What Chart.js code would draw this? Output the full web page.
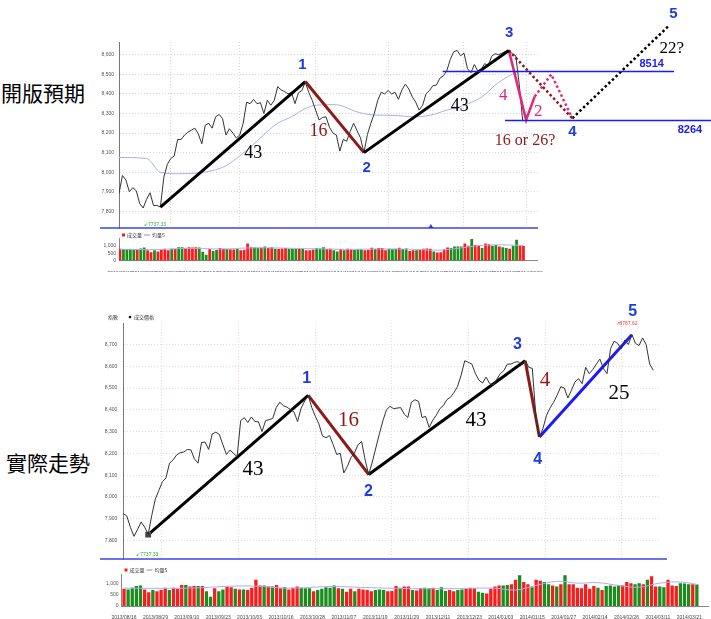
<!DOCTYPE html>
<html><head><meta charset="utf-8">
<script src="https://cdn.jsdelivr.net/npm/chart.js@4.4.1/dist/chart.umd.min.js"></script>
<style>
html,body{margin:0;padding:0;background:#fff;width:711px;height:619px;overflow:hidden;position:relative;}
canvas{position:absolute;}
.side{position:absolute;font-family:"Noto Sans CJK TC";font-size:21px;line-height:24px;color:#000;white-space:nowrap;}
</style></head><body>
<div class="side" style="left:1px;top:80px">開版預期</div>
<div class="side" style="left:6px;top:450px">實際走勢</div>
<canvas id="topPrice" width="445" height="206" style="left:100px;top:30px"></canvas>
<canvas id="topVol" width="445" height="40" style="left:100px;top:232px"></canvas>
<canvas id="topOverlay" width="611" height="240" style="left:100px;top:0px"></canvas>
<canvas id="botPrice" width="611" height="268" style="left:100px;top:300px"></canvas>
<canvas id="botVol" width="611" height="51" style="left:100px;top:568px"></canvas>
<script>
// ---------------- DATA ----------------
const topDates = ["2013/08/12","2013/08/20","2013/08/30","2013/09/10","2013/09/18","2013/10/01","2013/10/11","2013/10/22","2013/10/31","2013/11/11","2013/11/20","2013/11/29","2013/12/10","2013/12/19","2013/12/30","2014/01/09","2014/01/20","2014/02/06"];
const topPrice = [7891,7983,7960,7900,7921,7905,7840,7817,7862,7895,
7830,7830,7822,7975,8040,8070,8083,8167,8167,8190,
8205,8215,8225,8195,8145,8240,8250,8225,8283,8295,
8275,8190,8222,8200,8175,8190,8250,8358,8350,8372,
8350,8355,8300,8367,8342,8367,8437,8420,8412,8400,
8408,8350,8405,8417,8460,8408,8367,8317,8267,8280,
8283,8230,8200,8190,8108,8167,8158,8208,8250,8212,
8175,8100,8192,8250,8300,8367,8408,8400,8417,8400,
8408,8372,8420,8450,8425,8385,8358,8317,8342,8400,
8417,8442,8445,8480,8492,8517,8575,8615,8622,8595,
8608,8530,8508,8550,8517,8525,8555,8542,8592,8605,
8600,8608,8617,8622,8605,8595,8450,8264];
const topMaIdx = [0,8,12,17,22,27,31,35,39,43,46,50,54,57,62,64,69,74,80,85,90,95,100,105,110,114,116];
const topMaVal = [8075,8070,8000,7992,7995,8008,8033,8083,8142,8208,8250,8283,8325,8342,8345,8342,8308,8292,8290,8283,8290,8317,8342,8383,8458,8500,8517];
const topVolume = [800,780,780,780,750,730,820,880,700,560,690,620,720,800,700,800,780,900,900,850,900,880,900,880,600,400,780,650,720,850,800,780,760,750,780,700,730,1150,900,880,860,870,950,850,900,800,780,820,850,790,800,800,800,780,690,700,740,850,820,900,780,800,700,620,780,700,800,750,730,760,760,700,730,870,780,850,850,700,800,780,800,860,780,820,650,700,700,720,800,820,800,620,550,560,750,880,850,950,950,950,1150,1000,1450,1050,1000,850,1150,1100,1000,1050,950,900,850,800,1000,1400,1000,980];
const topVolDown = [0,1,1,1,1,0,1,1,0,0,1,0,0,0,0,1,0,1,1,0,0,0,0,1,1,1,0,1,1,0,0,1,0,0,1,0,0,0,0,1,1,0,1,0,0,1,0,0,0,1,1,1,0,1,0,0,0,1,1,1,0,0,1,1,0,1,0,0,1,1,1,0,0,0,1,0,0,0,1,1,1,0,1,1,0,0,1,0,0,0,0,1,0,0,0,0,1,1,1,1,0,0,1,0,0,1,0,0,1,1,0,1,1,0,1,1,0,0];
const topVolMaIdx = [0,10,20,30,37,45,55,65,75,85,92,97,103,108,112,117];
const topVolMaVal = [760,740,820,780,850,850,800,760,780,760,700,800,980,1050,1050,1020];
const topWaveIdx = [12,54,71,113];
const topWaveVal = [7822,8463,8100,8622];
const topPinkIdx = [113,118,120.5];
const topPinkVal = [8622,8267,8387];
const topPinkDotIdx = [120.5,125.3,131.4];
const topPinkDotVal = [8387,8500,8275];
const topRedDotIdx = [113,131.4];
const topRedDotVal = [8622,8275];
const topBlackDotIdx = [131.4,159.2];
const topBlackDotVal = [8275,8745];
const topLevels = [8514,8264];
const topLevelFrom = [93.8,111.9];
const topLevelTo = [160.9,171.6];

const botDates = ["2013/08/16","2013/08/29","2013/09/10","2013/09/23","2013/10/03","2013/10/16","2013/10/28","2013/11/07","2013/11/19","2013/11/29","2013/12/11","2013/12/23","2014/01/03","2014/01/15","2014/01/27","2014/02/14","2014/02/26","2014/03/11","2014/03/21"];
const botPrice = [7924,7912,7860,7819,7850,7885,7862,7827,7915,7990,
8030,8070,8087,8155,8170,8193,8203,8206,8218,8216,
8175,8155,8250,8252,8218,8289,8297,8287,8240,8195,
8215,8200,8185,8350,8364,8342,8367,8346,8345,8300,
8350,8355,8360,8410,8435,8419,8412,8401,8390,8346,
8408,8440,8466,8410,8370,8335,8280,8272,8282,8240,
8195,8200,8110,8140,8180,8202,8240,8255,8170,8103,
8160,8225,8290,8350,8400,8416,8405,8408,8410,8380,
8365,8435,8446,8439,8364,8370,8319,8352,8375,8405,
8420,8447,8458,8480,8508,8560,8625,8618,8610,8566,
8536,8523,8550,8521,8513,8540,8566,8580,8610,8610,
8618,8621,8606,8625,8595,8590,8370,8275,8315,8375,
8409,8435,8468,8506,8500,8454,8490,8528,8543,8520,
8595,8566,8585,8610,8633,8590,8566,8680,8715,8705,
8680,8720,8700,8745,8705,8695,8730,8700,8610,8582];
const botVolume = [750,720,800,880,900,720,600,700,640,700,800,700,800,760,920,920,850,880,880,870,650,400,780,640,720,840,820,750,720,720,700,800,1150,900,900,850,850,920,780,820,720,800,850,800,780,780,650,700,750,820,800,900,780,760,620,760,650,760,720,700,650,700,720,700,650,660,880,800,850,850,700,680,790,800,780,800,700,820,660,700,650,700,720,760,800,780,620,580,550,760,850,900,900,920,950,1150,1350,1050,950,820,1150,1100,1050,950,900,850,950,1350,950,950,800,780,950,750,880,800,700,880,900,850,900,900,1050,1000,950,1000,950,1150,1300,850,850,820,1150,900,870,1000,980,950,950,940];
const botVolDown = [0,1,1,1,1,0,0,1,0,0,0,1,0,0,0,1,0,0,1,0,1,1,0,1,1,0,0,1,0,1,0,0,0,0,1,0,1,0,0,1,0,0,0,1,1,1,0,1,1,1,1,1,0,1,0,0,1,0,0,0,0,1,1,1,0,0,0,1,0,0,1,0,0,1,1,0,1,1,1,0,0,1,1,0,0,0,1,1,0,0,0,0,1,1,0,0,1,0,0,1,0,0,1,1,0,1,0,1,0,0,0,0,0,0,0,1,0,1,1,1,1,0,0,0,1,1,0,1,0,0,1,1,0,0,0,1,1,1,0,1];
const botVolMaIdx = [0,15,30,40,50,60,70,80,90,95,100,105,110,115,120,125,130,135,139];
const botVolMaVal = [780,780,880,780,850,800,760,760,780,700,900,1080,1000,1020,900,820,1000,1050,950];
const botWaveIdx = [7,52,69,113,117,143];
const botWaveVal = [7827,8466,8103,8625,8275,8745];

// ---------------- STYLE ----------------
const BLUE_NUM = '#1e3ce6', DARKRED = '#8b1a1a', PINK = '#e0287a', LEVEL_BLUE = '#1a1aff';
const RED_BAR = '#f81c1c', GREEN_BAR = '#1c8c1c', MA_COL = '#a9aef2';
Chart.defaults.font.family = '"Liberation Sans", Arial, sans-serif';
Chart.defaults.animation = false;
Chart.defaults.responsive = false;
Chart.defaults.plugins.legend.display = false;
Chart.defaults.plugins.tooltip.enabled = false;

const pts = (xs, ys) => xs.map((x, i) => ({x, y: ys[i]}));

const textPlugin = {
  id: 'texts',
  afterDatasetsDraw(chart, args, opts) {
    const {ctx, scales: {x, y}} = chart;
    (opts.items || []).forEach(it => {
      ctx.save();
      ctx.font = it.font; ctx.fillStyle = it.color;
      ctx.textAlign = it.align || 'center'; ctx.textBaseline = 'middle';
      ctx.fillText(it.text, x.getPixelForValue(it.x), y.getPixelForValue(it.y));
      ctx.restore();
    });
  }
};
const decoPlugin = {
  id: 'deco',
  afterDraw(chart, args, o) {
    const {ctx, chartArea: a} = chart;
    ctx.save();
    if (o.sep) {
      ctx.strokeStyle = '#3a44e8'; ctx.lineWidth = 1.5;
      ctx.beginPath(); ctx.moveTo(0, a.bottom); ctx.lineTo(a.right + (o.sep.extra || 0), a.bottom); ctx.stroke();
    }
    if (o.tri !== undefined) {
      const px = chart.scales.x.getPixelForValue(o.tri);
      ctx.fillStyle = '#2a3ae0';
      ctx.beginPath(); ctx.moveTo(px, a.bottom - 4); ctx.lineTo(px - 2.5, a.bottom); ctx.lineTo(px + 2.5, a.bottom); ctx.closePath(); ctx.fill();
    }
    if (o.minText) {
      ctx.font = '5px "Liberation Sans"'; ctx.fillStyle = '#33aa33'; ctx.textBaseline = 'middle'; ctx.textAlign = 'left';
      ctx.fillText(o.minText.text, a.left + o.minText.dx, a.bottom - o.minText.dy);
    }
    if (o.volLegend) {
      const lx = a.left + 3, ly = o.volLegend.y;
      ctx.fillStyle = RED_BAR; ctx.fillRect(lx, ly - 1.5, 3, 3);
      ctx.font = '5px "Noto Sans CJK TC"'; ctx.fillStyle = '#333'; ctx.textBaseline = 'middle'; ctx.textAlign = 'left';
      ctx.fillText('成交量', lx + 5, ly);
      ctx.strokeStyle = '#8890e0'; ctx.lineWidth = 1;
      ctx.beginPath(); ctx.moveTo(lx + 22, ly); ctx.lineTo(lx + 28, ly); ctx.stroke();
      ctx.fillText('均量5', lx + 30, ly);
    }
    if (o.priceLegend) {
      ctx.font = '5px "Noto Sans CJK TC"'; ctx.fillStyle = '#333'; ctx.textBaseline = 'middle'; ctx.textAlign = 'left';
      ctx.fillText('指數', 8, o.priceLegend.y);
      ctx.fillStyle = '#111'; ctx.beginPath(); ctx.arc(30, o.priceLegend.y, 1.3, 0, Math.PI * 2); ctx.fill();
      ctx.fillStyle = '#333'; ctx.fillText('成交價格', 34, o.priceLegend.y);
    }
    ctx.restore();
  }
};
const plugins = [textPlugin, decoPlugin];
const keepHundreds = s => { s.ticks = s.ticks.filter(t => t.value % 100 === 0); };
const tickFont = {size: 5};

// ---------------- TOP PRICE ----------------
const topGridIdx = [15, 35, 57, 78, 100, 118];
const topChart = new Chart(document.getElementById('topPrice'), {
  type: 'line',
  data: {datasets: [
    {data: pts(topPrice.map((v, i) => i), topPrice), borderColor: '#333', borderWidth: 1, pointRadius: 0, tension: 0},
    {data: pts(topMaIdx, topMaVal), borderColor: MA_COL, borderWidth: 1, pointRadius: 0, tension: 0.4, cubicInterpolationMode: 'monotone'}
  ]},
  options: {
    layout: {padding: {top: 12, right: 7, bottom: 4, left: 0}},
    scales: {
      x: {type: 'linear', min: 0, max: 121.45,
          afterBuildTicks: s => { s.ticks = topGridIdx.map(v => ({value: v})); },
          afterFit: s => { s.height = 0; },
          ticks: {display: false}, grid: {color: '#d8d8d8', drawTicks: false}, border: {display: false, dash: [1, 2]}},
      y: {min: 7715, max: 8665, afterBuildTicks: keepHundreds, afterFit: s => { s.width = 19; },
          ticks: {stepSize: 100, font: tickFont, color: '#555', padding: 5},
          grid: {color: '#d8d8d8', drawTicks: false}, border: {color: '#777', dash: [1, 2]}}
    },
    plugins: {deco: {sep: {extra: 0}, tri: 90.4, minText: {text: '↙7737.33', dx: 25, dy: 3}}}
  },
  plugins
});

// ---------------- TOP OVERLAY (annotations extend past plot) ----------------
(function () {
  const xs = topChart.scales.x, ys = topChart.scales.y;
  const baseL = 100, baseT = 30, oL = 100, oT = 0, oW = 611, oH = 240;
  const xmin = xs.getValueForPixel(oL - baseL), xmax = xs.getValueForPixel(oL + oW - baseL);
  const ymax = ys.getValueForPixel(oT - baseT), ymin = ys.getValueForPixel(oT + oH - baseT);
  const waveColors = ['#000', DARKRED, '#000'];
  const serif = s => s + 'px "Liberation Serif", "Times New Roman", serif';
  const numF = 'bold 15px "Liberation Sans", Arial, sans-serif';
  new Chart(document.getElementById('topOverlay'), {
    type: 'line',
    data: {datasets: [
      {data: pts([topLevelFrom[0], topLevelTo[0]], [topLevels[0], topLevels[0]]), borderColor: LEVEL_BLUE, borderWidth: 1.5, pointRadius: 0},
      {data: pts([topLevelFrom[1], topLevelTo[1]], [topLevels[1], topLevels[1]]), borderColor: LEVEL_BLUE, borderWidth: 1.5, pointRadius: 0},
      {data: pts(topWaveIdx, topWaveVal), borderWidth: 3, pointRadius: 0,
       segment: {borderColor: c => waveColors[c.p0DataIndex]}},
      {data: pts(topRedDotIdx, topRedDotVal), borderColor: DARKRED, borderWidth: 2.5, borderDash: [2.5, 2.5], pointRadius: 0},
      {data: pts(topPinkDotIdx, topPinkDotVal), borderColor: PINK, borderWidth: 2.5, borderDash: [2.5, 2.5], pointRadius: 0},
      {data: pts(topBlackDotIdx, topBlackDotVal), borderColor: '#000', borderWidth: 2.5, borderDash: [2.5, 2.5], pointRadius: 0},
      {data: pts(topPinkIdx, topPinkVal), borderColor: PINK, borderWidth: 2.5, pointRadius: 0}
    ]},
    options: {
      layout: {padding: 0},
      scales: {x: {type: 'linear', display: false, min: xmin, max: xmax}, y: {display: false, min: ymin, max: ymax}},
      plugins: {texts: {items: [
        {x: 53.2, y: 8550, text: '1', color: BLUE_NUM, font: numF},
        {x: 71.8, y: 8020, text: '2', color: BLUE_NUM, font: numF},
        {x: 113.1, y: 8710, text: '3', color: BLUE_NUM, font: numF},
        {x: 131.4, y: 8208, text: '4', color: BLUE_NUM, font: numF},
        {x: 160.7, y: 8808, text: '5', color: BLUE_NUM, font: numF},
        {x: 38.9, y: 8095, text: '43', color: '#000', font: serif(18)},
        {x: 98.8, y: 8336, text: '43', color: '#000', font: serif(18)},
        {x: 57.8, y: 8208, text: '16', color: DARKRED, font: serif(18)},
        {x: 111.4, y: 8392, text: '4', color: PINK, font: serif(17)},
        {x: 121.5, y: 8308, text: '2', color: PINK, font: serif(17)},
        {x: 117.7, y: 8162, text: '16 or 26?', color: DARKRED, font: serif(16)},
        {x: 160.2, y: 8633, text: '22?', color: '#000', font: serif(17)},
        {x: 154.4, y: 8555, text: String(topLevels[0]), color: LEVEL_BLUE, font: 'bold 11px "Liberation Sans"'},
        {x: 165.5, y: 8217, text: String(topLevels[1]), color: LEVEL_BLUE, font: 'bold 11px "Liberation Sans"'}
      ]}}
    },
    plugins
  });
})();

// ---------------- TOP VOLUME ----------------
new Chart(document.getElementById('topVol'), {
  type: 'bar',
  data: {datasets: [
    {type: 'line', data: pts(topVolMaIdx, topVolMaVal), borderColor: MA_COL, borderWidth: 1, pointRadius: 0, tension: 0.4},
    {data: pts(topVolume.map((v, i) => i), topVolume), backgroundColor: topVolDown.map(d => d ? GREEN_BAR : RED_BAR),
     categoryPercentage: 1, barPercentage: 0.8}
  ]},
  options: {
    layout: {padding: {top: 6, right: 7, bottom: 0, left: 0}},
    scales: {
      x: {type: 'linear', min: -0.29, max: 121.2, offset: false,
          afterBuildTicks: s => { s.ticks = topDates.map((d, i) => ({value: i * 7})); },
          afterFit: s => { s.height = 11.3; },
          ticks: {autoSkip: false, maxRotation: 0, font: {size: 5}, color: '#444', padding: 2, callback: (v, i) => topDates[i]},
          grid: {display: false}, border: {color: '#888'}},
      y: {min: 0, max: 1513, afterBuildTicks: s => { s.ticks = [0, 500, 1000].map(v => ({value: v})); },
          afterFit: s => { s.width = 19; },
          ticks: {font: tickFont, color: '#555', padding: 3}, grid: {display: false, drawTicks: false}, border: {color: '#888'}}
    },
    plugins: {deco: {volLegend: {y: 3}}}
  },
  plugins
});

// ---------------- BOTTOM PRICE ----------------
const botGridIdx = [10.8, 32.4, 53.9, 75.5, 97, 118.6, 140.1];
const botWaveColors = ['#000', DARKRED, '#000', DARKRED, '#1a1aff'];
const serifB = s => s + 'px "Liberation Serif", "Times New Roman", serif';
const numB = 'bold 16px "Liberation Sans", Arial, sans-serif';
new Chart(document.getElementById('botPrice'), {
  type: 'line',
  data: {datasets: [
    {data: pts(botPrice.map((v, i) => i), botPrice), borderColor: '#333', borderWidth: 1, pointRadius: 0, tension: 0},
    {data: pts(botWaveIdx, botWaveVal), borderWidth: 3, segment: {borderColor: c => botWaveColors[c.p0DataIndex]},
     pointRadius: c => c.dataIndex === 0 ? 2 : 0, pointStyle: 'rect', pointBackgroundColor: '#444', pointBorderColor: '#444'}
  ]},
  options: {
    layout: {padding: {top: 23, right: 51, bottom: 3, left: 0}},
    scales: {
      x: {type: 'linear', min: 0, max: 150.9,
          afterBuildTicks: s => { s.ticks = botGridIdx.map(v => ({value: v})); },
          afterFit: s => { s.height = 0; },
          ticks: {display: false}, grid: {color: '#ecd6e6', drawTicks: false}, border: {display: false, dash: [1, 2]}},
      y: {min: 7715, max: 8798.5, afterBuildTicks: keepHundreds, afterFit: s => { s.width = 23.3; },
          ticks: {stepSize: 100, font: tickFont, color: '#555', padding: 6},
          grid: {color: '#ecd6e6', drawTicks: false}, border: {color: '#777', dash: [1, 2]}}
    },
    plugins: {
      deco: {sep: {extra: 7}, minText: {text: '↙7737.33', dx: 13, dy: 4}, priceLegend: {y: 17}},
      texts: {items: [
        {x: 51.6, y: 8543, text: '1', color: BLUE_NUM, font: numB},
        {x: 68.9, y: 8025, text: '2', color: BLUE_NUM, font: numB},
        {x: 110.8, y: 8700, text: '3', color: BLUE_NUM, font: numB},
        {x: 116.5, y: 8173, text: '4', color: BLUE_NUM, font: numB},
        {x: 143.2, y: 8849, text: '5', color: BLUE_NUM, font: numB},
        {x: 36.5, y: 8128, text: '43', color: '#000', font: serifB(21)},
        {x: 99.2, y: 8352, text: '43', color: '#000', font: serifB(21)},
        {x: 63.3, y: 8349, text: '16', color: DARKRED, font: serifB(21)},
        {x: 118.6, y: 8536, text: '4', color: DARKRED, font: serifB(21)},
        {x: 139.4, y: 8476, text: '25', color: '#000', font: serifB(21)},
        {x: 141.5, y: 8797, text: '↗8787.62', color: '#f04040', font: '5px "Liberation Sans"'}
      ]}
    }
  },
  plugins
});

// ---------------- BOTTOM VOLUME ----------------
const botDateStep = 7.62; // bars between date labels on this axis
new Chart(document.getElementById('botVol'), {
  type: 'bar',
  data: {datasets: [
    {type: 'line', data: pts(botVolMaIdx, botVolMaVal), borderColor: MA_COL, borderWidth: 1, pointRadius: 0, tension: 0.4},
    {data: pts(botVolume.map((v, i) => i), botVolume), backgroundColor: botVolDown.map(d => d ? GREEN_BAR : RED_BAR),
     categoryPercentage: 1, barPercentage: 0.8}
  ]},
  options: {
    layout: {padding: {top: 3, right: 3, bottom: 0, left: 0}},
    scales: {
      x: {type: 'linear', min: -0.61, max: 141.7, offset: false,
          afterBuildTicks: s => { s.ticks = botDates.map((d, i) => ({value: i * botDateStep})); },
          afterFit: s => { s.height = 13; },
          ticks: {autoSkip: false, maxRotation: 0, font: {size: 5}, color: '#444', padding: 1,
                  callback: (v, i) => botDates[i]},
          grid: {display: false}, border: {color: '#888'}},
      y: {min: 0, max: 1400, afterBuildTicks: s => { s.ticks = [0, 500, 1000].map(v => ({value: v})); },
          afterFit: s => { s.width = 21.5; },
          ticks: {font: tickFont, color: '#555', padding: 3}, grid: {display: false, drawTicks: false}, border: {color: '#888'}}
    },
    plugins: {deco: {volLegend: {y: 2}}}
  },
  plugins
});
</script>
</body></html>
